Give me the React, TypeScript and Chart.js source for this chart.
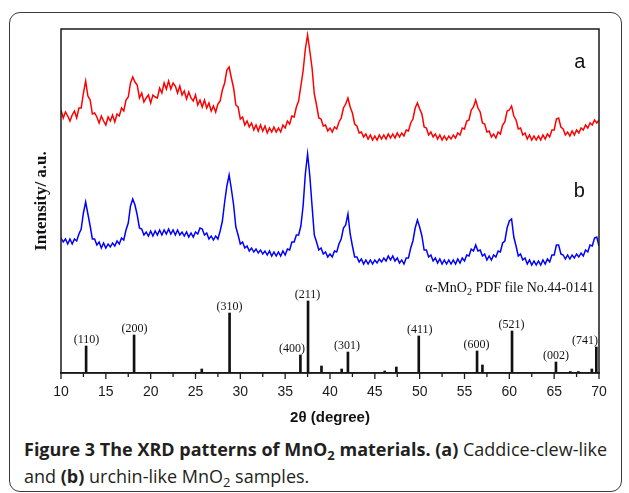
import React, { useEffect, useRef } from "react";
import { Chart, registerables } from "chart.js";

Chart.register(...registerables);

// 2θ sampling grid (degrees)
const TWO_THETA = [
  10, 10.25, 10.5, 10.75, 11, 11.25, 11.5, 11.75,
  12, 12.25, 12.5, 12.75, 13, 13.25, 13.5, 13.75,
  14, 14.25, 14.5, 14.75, 15, 15.25, 15.5, 15.75,
  16, 16.25, 16.5, 16.75, 17, 17.25, 17.5, 17.75,
  18, 18.25, 18.5, 18.75, 19, 19.25, 19.5, 19.75,
  20, 20.25, 20.5, 20.75, 21, 21.25, 21.5, 21.75,
  22, 22.25, 22.5, 22.75, 23, 23.25, 23.5, 23.75,
  24, 24.25, 24.5, 24.75, 25, 25.25, 25.5, 25.75,
  26, 26.25, 26.5, 26.75, 27, 27.25, 27.5, 27.75,
  28, 28.25, 28.5, 28.75, 29, 29.25, 29.5, 29.75,
  30, 30.25, 30.5, 30.75, 31, 31.25, 31.5, 31.75,
  32, 32.25, 32.5, 32.75, 33, 33.25, 33.5, 33.75,
  34, 34.25, 34.5, 34.75, 35, 35.25, 35.5, 35.75,
  36, 36.25, 36.5, 36.75, 37, 37.25, 37.5, 37.75,
  38, 38.25, 38.5, 38.75, 39, 39.25, 39.5, 39.75,
  40, 40.25, 40.5, 40.75, 41, 41.25, 41.5, 41.75,
  42, 42.25, 42.5, 42.75, 43, 43.25, 43.5, 43.75,
  44, 44.25, 44.5, 44.75, 45, 45.25, 45.5, 45.75,
  46, 46.25, 46.5, 46.75, 47, 47.25, 47.5, 47.75,
  48, 48.25, 48.5, 48.75, 49, 49.25, 49.5, 49.75,
  50, 50.25, 50.5, 50.75, 51, 51.25, 51.5, 51.75,
  52, 52.25, 52.5, 52.75, 53, 53.25, 53.5, 53.75,
  54, 54.25, 54.5, 54.75, 55, 55.25, 55.5, 55.75,
  56, 56.25, 56.5, 56.75, 57, 57.25, 57.5, 57.75,
  58, 58.25, 58.5, 58.75, 59, 59.25, 59.5, 59.75,
  60, 60.25, 60.5, 60.75, 61, 61.25, 61.5, 61.75,
  62, 62.25, 62.5, 62.75, 63, 63.25, 63.5, 63.75,
  64, 64.25, 64.5, 64.75, 65, 65.25, 65.5, 65.75,
  66, 66.25, 66.5, 66.75, 67, 67.25, 67.5, 67.75,
  68, 68.25, 68.5, 68.75, 69, 69.25, 69.5, 69.75,
  70,
];

// (a) Caddice-clew-like MnO2 (offset pattern, a.u.)
const PATTERN_A = [
  263, 255, 261, 257, 252, 258, 262, 255,
  265, 265, 280, 292, 277, 273, 259, 260,
  256, 250, 257, 252, 248, 256, 252, 258,
  251, 259, 257, 265, 262, 273, 276, 290,
  296, 291, 288, 275, 280, 271, 275, 278,
  270, 278, 276, 275, 285, 280, 290, 284,
  292, 284, 290, 287, 280, 287, 278, 282,
  274, 281, 275, 272, 278, 268, 273, 266,
  273, 265, 270, 262, 267, 261, 269, 272,
  283, 290, 303, 306, 295, 285, 268, 266,
  254, 256, 248, 252, 246, 250, 243, 248,
  242, 248, 242, 247, 240, 245, 241, 246,
  241, 245, 241, 248, 245, 252, 249, 257,
  256, 266, 272, 287, 302, 324, 338, 322,
  305, 279, 268, 255, 254, 247, 248, 242,
  245, 241, 246, 244, 251, 255, 265, 269,
  275, 266, 260, 249, 247, 240, 241, 236,
  239, 234, 238, 233, 237, 233, 238, 234,
  238, 234, 239, 235, 239, 235, 240, 236,
  240, 237, 243, 242, 250, 254, 265, 270,
  264, 259, 246, 245, 238, 241, 236, 239,
  234, 238, 233, 237, 233, 237, 234, 238,
  235, 240, 238, 245, 244, 252, 253, 263,
  266, 273, 265, 261, 250, 249, 241, 242,
  236, 239, 235, 241, 239, 248, 251, 262,
  263, 267, 257, 253, 244, 245, 238, 240,
  234, 238, 233, 237, 233, 237, 233, 238,
  234, 239, 236, 243, 243, 254, 255, 246,
  244, 238, 241, 237, 242, 238, 243, 240,
  245, 243, 248, 245, 250, 248, 253, 250,
  253,
];

// (b) urchin-like MnO2 (offset pattern, a.u.)
const PATTERN_B = [
  135, 131, 134, 129, 134, 129, 134, 132,
  139, 144, 160, 171, 159, 147, 134, 134,
  128, 131, 125, 130, 125, 129, 126, 130,
  127, 132, 129, 135, 133, 143, 150, 167,
  174, 168, 158, 145, 144, 138, 141, 137,
  142, 137, 142, 138, 143, 138, 143, 139,
  144, 139, 143, 138, 143, 138, 141, 137,
  141, 136, 140, 136, 141, 139, 145, 144,
  138, 140, 134, 137, 133, 137, 134, 142,
  152, 171, 187, 198, 184, 168, 146, 138,
  129, 131, 125, 127, 122, 125, 121, 124,
  120, 123, 119, 122, 118, 122, 117, 121,
  117, 121, 117, 122, 118, 124, 123, 131,
  131, 138, 138, 147, 167, 199, 219, 197,
  167, 138, 131, 123, 125, 119, 121, 116,
  119, 116, 122, 121, 129, 134, 145, 148,
  159, 139, 127, 116, 116, 111, 114, 109,
  113, 109, 113, 109, 113, 110, 114, 111,
  115, 112, 117, 113, 117, 112, 115, 110,
  113, 109, 115, 115, 125, 132, 145, 153,
  146, 137, 123, 123, 116, 118, 112, 115,
  110, 114, 109, 113, 109, 113, 109, 113,
  109, 114, 110, 115, 112, 118, 117, 124,
  122, 128, 122, 123, 117, 119, 113, 117,
  113, 118, 116, 122, 121, 130, 132, 145,
  152, 154, 136, 127, 117, 119, 113, 115,
  109, 113, 108, 112, 108, 112, 108, 113,
  109, 114, 111, 118, 118, 128, 128, 119,
  118, 114, 118, 114, 118, 115, 119, 116,
  120, 117, 123, 121, 128, 127, 135, 136,
  127,
];

// α-MnO2 PDF card No.44-0141 reference lines
const PDF_POS = [12.8, 18.15, 25.7, 28.8, 36.7, 37.55, 39.05, 41.3, 42.0, 46.1, 47.4, 49.9, 56.4, 57.0, 60.3, 65.2, 66.8, 67.7, 69.2, 69.7];
const PDF_INT = [27, 38, 4, 60, 18, 72, 7, 4, 21, 2, 6, 37, 22, 8, 42, 11, 1.5, 1.5, 4, 26];

const HKL_LABELS = ["(110)", "(200)", "(310)", "(400)", "(211)", "(301)", "(411)", "(600)", "(521)", "(002)", "(741)"];
const HKL_POS = [12.8, 18.15, 28.8, 36.7, 37.55, 42.0, 49.9, 56.4, 60.3, 65.2, 69.7];
const HKL_LABEL_POS = [12.85, 18.2, 28.8, 35.75, 37.5, 41.9, 50.0, 56.35, 60.25, 65.2, 68.45];

const X_TITLE = "2θ (degree)";
const Y_TITLE = "Intensity/ a.u.";
const CARD_TEXT = ["α-MnO", "2", " PDF file No.44-0141"];
const SERIES_TAGS = ["a", "b"];

const annotPlugin = {
  id: "xrdAnnot",
  afterDraw(chart: any) {
    const { ctx, chartArea: ca, scales } = chart;
    const x = scales.x;
    const y = scales.y;
    ctx.save();
    // frame of plot
    ctx.strokeStyle = "#1a1a1a";
    ctx.lineWidth = 1.5;
    ctx.strokeRect(ca.left, ca.top, ca.right - ca.left, ca.bottom - ca.top);
    // x ticks (major / minor)
    ctx.lineWidth = 1.3;
    x.ticks.forEach((t: any) => {
      const px = x.getPixelForValue(t.value);
      const major = Math.abs(t.value % 5) < 1e-6;
      ctx.beginPath();
      ctx.moveTo(px, ca.bottom);
      ctx.lineTo(px, ca.bottom + (major ? 6 : 4));
      ctx.stroke();
    });
    // hkl labels
    ctx.fillStyle = "#111";
    ctx.font = '12px "Liberation Serif", "Times New Roman", serif';
    ctx.textAlign = "center";
    ctx.textBaseline = "alphabetic";
    HKL_LABELS.forEach((lab, i) => {
      const k = PDF_POS.indexOf(HKL_POS[i]);
      const top = y.getPixelForValue(PDF_INT[k]);
      ctx.fillText(lab, x.getPixelForValue(HKL_LABEL_POS[i]), top - 3);
    });
    // PDF card text, right aligned
    const big = '14px "Liberation Serif", "Times New Roman", serif';
    const small = '10px "Liberation Serif", "Times New Roman", serif';
    ctx.textAlign = "left";
    ctx.font = big;
    const w1 = ctx.measureText(CARD_TEXT[0]).width;
    const w3 = ctx.measureText(CARD_TEXT[2]).width;
    ctx.font = small;
    const w2 = ctx.measureText(CARD_TEXT[1]).width;
    const base = y.getPixelForValue(81);
    let cx = ca.right - 5 - (w1 + w2 + w3);
    ctx.font = big;
    ctx.fillText(CARD_TEXT[0], cx, base);
    cx += w1;
    ctx.font = small;
    ctx.fillText(CARD_TEXT[1], cx, base + 3);
    cx += w2;
    ctx.font = big;
    ctx.fillText(CARD_TEXT[2], cx, base);
    // series tags
    ctx.font = '20px "Liberation Sans", Arial, sans-serif';
    ctx.textAlign = "center";
    ctx.fillText(SERIES_TAGS[0], x.getPixelForValue(67.85), y.getPixelForValue(305));
    ctx.fillText(SERIES_TAGS[1], x.getPixelForValue(67.8), y.getPixelForValue(176));
    // axis titles
    ctx.font = 'bold 15px "Liberation Sans", Arial, sans-serif';
    ctx.textBaseline = "middle";
    ctx.fillText(X_TITLE, (ca.left + ca.right) / 2, ca.bottom + 45);
    ctx.save();
    ctx.translate(ca.left - 19, (ca.top + ca.bottom) / 2);
    ctx.rotate(-Math.PI / 2);
    ctx.font = 'bold 17px "Liberation Serif", "Times New Roman", serif';
    ctx.fillText(Y_TITLE, 0, 0);
    ctx.restore();
    ctx.restore();
  },
};

export default function App() {
  const ref = useRef<HTMLCanvasElement>(null);
  useEffect(() => {
    const canvas = ref.current;
    if (!canvas) return;
    const chart = new Chart(canvas, {
      type: "line",
      data: {
        datasets: [
          {
            type: "line",
            label: "a",
            data: TWO_THETA.map((t, i) => ({ x: t, y: PATTERN_A[i] })),
            borderColor: "#ff0000",
            borderWidth: 1.5,
            pointRadius: 0,
            tension: 0,
            fill: false,
          },
          {
            type: "line",
            label: "b",
            data: TWO_THETA.map((t, i) => ({ x: t, y: PATTERN_B[i] })),
            borderColor: "#0000ff",
            borderWidth: 1.5,
            pointRadius: 0,
            tension: 0,
            fill: false,
          },
          {
            type: "bar",
            label: "PDF 44-0141",
            data: PDF_POS.map((t, i) => ({ x: t, y: PDF_INT[i] })),
            backgroundColor: "#111",
            borderWidth: 0,
            barThickness: 2,
          },
        ],
      } as any,
      options: {
        responsive: false,
        maintainAspectRatio: false,
        animation: false,
        layout: { padding: { top: 29, right: 30, left: 0, bottom: 0 } },
        plugins: { legend: { display: false }, tooltip: { enabled: false } },
        scales: {
          x: {
            type: "linear",
            min: 10,
            max: 70,
            offset: false,
            afterFit: (s: any) => {
              s.height = 57;
            },
            grid: { display: false, drawTicks: true, tickLength: 6 },
            border: { display: true, color: "#1a1a1a", width: 1.5 },
            ticks: {
              stepSize: 2.5,
              autoSkip: false,
              maxRotation: 0,
              padding: 5,
              color: "#1a1a1a",
              font: { family: '"Liberation Sans", Arial, sans-serif', size: 14 },
              callback: (v: any) => (Math.abs(Number(v) % 5) < 1e-6 ? String(v) : ""),
            },
          },
          y: {
            type: "linear",
            min: 0,
            max: 344,
            afterFit: (s: any) => {
              s.width = 61;
            },
            grid: { display: false },
            border: { display: false },
            ticks: { display: false },
          },
        },
      } as any,
      plugins: [annotPlugin],
    });
    return () => chart.destroy();
  }, []);

  const subStyle: React.CSSProperties = { fontSize: "0.72em", lineHeight: 0, verticalAlign: "-0.28em" };

  return (
    <div style={{ position: "absolute", left: 0, top: 0, width: 629, height: 493, background: "#fff", overflow: "hidden" }}>
      <div
        style={{
          position: "absolute",
          left: 9,
          top: 12,
          width: 613,
          height: 480,
          border: "1.5px solid #3a3a3a",
          borderRadius: 11,
          boxSizing: "border-box",
        }}
      />
      <canvas ref={ref} width={629} height={430} style={{ position: "absolute", left: 0, top: 0, width: 629, height: 430 }} />
      <div
        style={{
          position: "absolute",
          left: 24,
          top: 436,
          fontFamily: '"Open Sans", sans-serif',
          fontSize: 18,
          lineHeight: "27px",
          color: "#231f20",
          whiteSpace: "nowrap",
        }}
      >
        <div>
          <b>
            Figure 3 The XRD patterns of MnO<sub style={subStyle}>2</sub> materials. (a)
          </b>{" "}
          Caddice-clew-like
        </div>
        <div>
          and <b>(b)</b> urchin-like MnO<sub style={subStyle}>2</sub> samples.
        </div>
      </div>
    </div>
  );
}
